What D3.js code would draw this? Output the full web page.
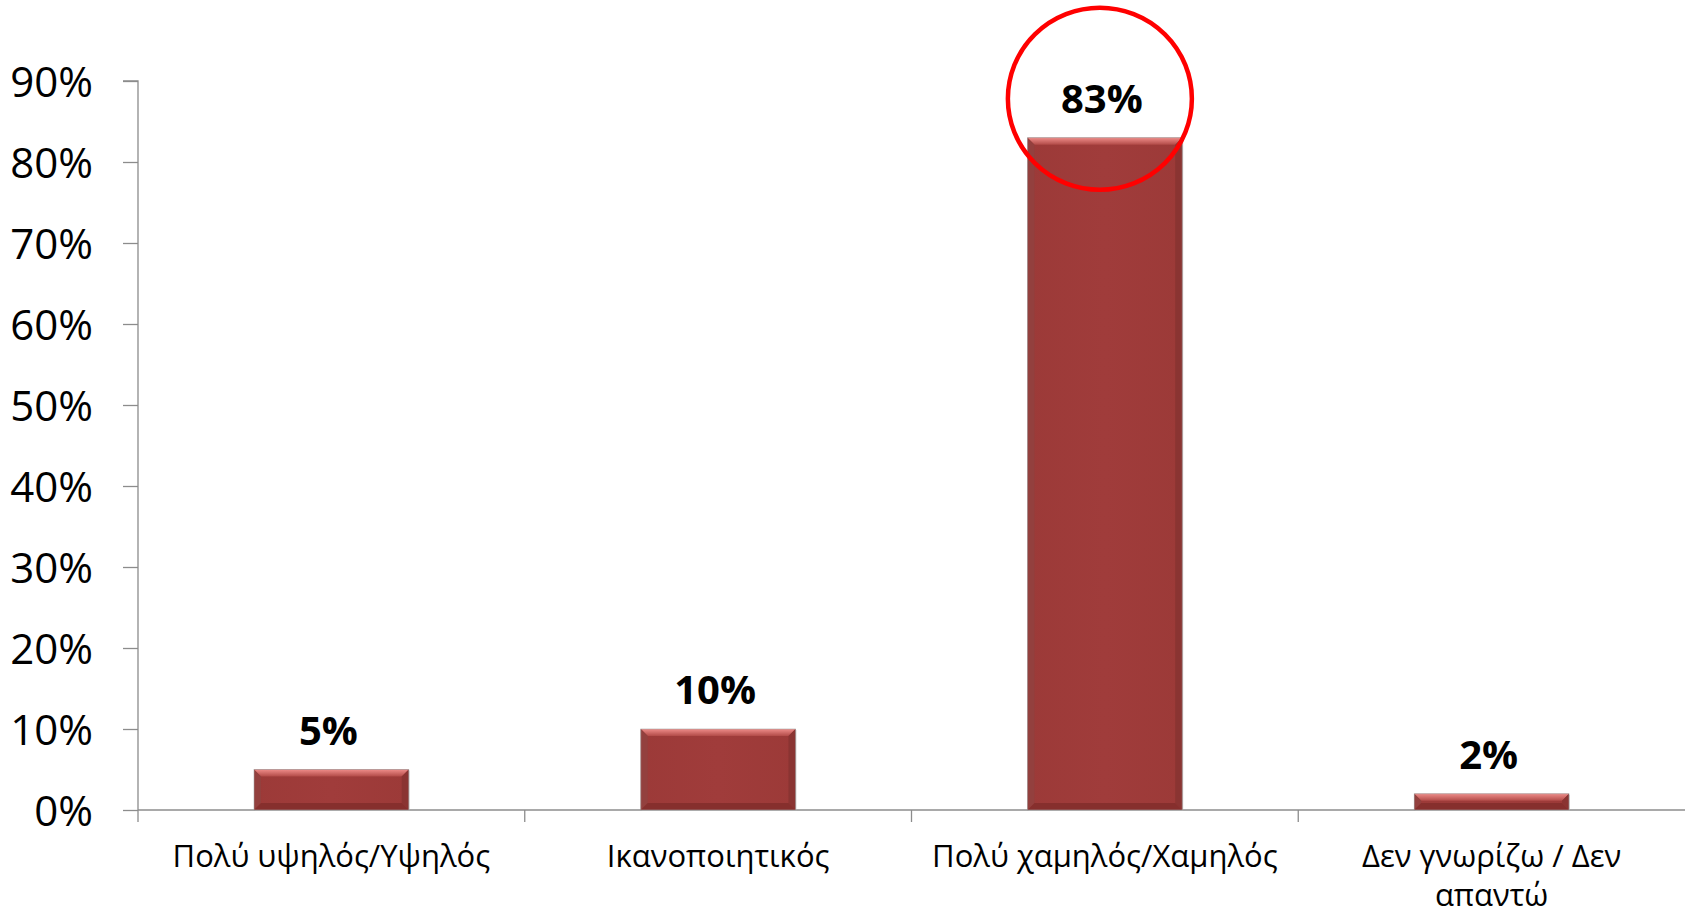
<!DOCTYPE html>
<html>
<head>
<meta charset="utf-8">
<script src="https://cdn.jsdelivr.net/npm/d3@7"></script>
<style>
html,body{margin:0;padding:0;background:#fff;}
svg{display:block;}
</style>
</head>
<body>
<svg id="chart" width="1685" height="917"></svg>
<script>
const categories = ["Πολύ υψηλός/Υψηλός", "Ικανοποιητικός", "Πολύ χαμηλός/Χαμηλός", "Δεν γνωρίζω / Δεν απαντώ"];
const values = [5, 10, 83, 2];
const valueLabels = ["5%", "10%", "83%", "2%"];
const yTicks = [0, 10, 20, 30, 40, 50, 60, 70, 80, 90];
const yTickLabels = ["0%", "10%", "20%", "30%", "40%", "50%", "60%", "70%", "80%", "90%"];
const highlighted = "Πολύ χαμηλός/Χαμηλός";

const svg = d3.select("#chart");
const W = 1685, H = 917;
const m = {left: 138, right: 0, top: 81, bottom: 107};
const FONT = "'Open Sans', 'Noto Sans', sans-serif";

const x = d3.scaleBand().domain(categories).range([m.left, W - m.right]).paddingInner(0.6).paddingOuter(0.3);
const y = d3.scaleLinear().domain([0, 90]).range([H - m.bottom, m.top]);

// defs: gradients
const defs = svg.append("defs");
const gTop = defs.append("linearGradient").attr("id", "gTop").attr("x1", 0).attr("y1", 0).attr("x2", 0).attr("y2", 1);
gTop.append("stop").attr("offset", "0%").attr("stop-color", "#ee8c89");
gTop.append("stop").attr("offset", "100%").attr("stop-color", "#b24b48");
const gBody = defs.append("linearGradient").attr("id", "gBody").attr("x1", 0).attr("y1", 0).attr("x2", 1).attr("y2", 0);
gBody.append("stop").attr("offset", "0%").attr("stop-color", "#9c3a38");
gBody.append("stop").attr("offset", "50%").attr("stop-color", "#a03c3b");
gBody.append("stop").attr("offset", "100%").attr("stop-color", "#9c3a38");

// Y axis
const yAxis = d3.axisLeft(y).tickValues(yTicks).tickFormat((d, i) => yTickLabels[i]).tickSize(15).tickPadding(30);
const ya = svg.append("g").attr("transform", `translate(${m.left},0)`).call(yAxis);
ya.select(".domain").attr("stroke", "#8c8c8c").attr("stroke-width", 1.3).attr("d", `M-15,${y(90)}H0V${y(0)}`);
ya.selectAll(".tick line").attr("stroke", "#8c8c8c").attr("stroke-width", 1.3);
ya.selectAll(".tick text").attr("font-family", FONT).attr("font-size", 42).attr("fill", "#000").attr("dy", "0.36em");

// X axis
const xa = svg.append("g").attr("transform", `translate(0,${y(0)})`);
xa.append("line").attr("x1", m.left).attr("x2", W - m.right).attr("y1", 0).attr("y2", 0).attr("stroke", "#8c8c8c").attr("stroke-width", 1.3);
const step = x.step();
const catStarts = categories.map(c => x(c) + x.bandwidth() / 2 - step / 2);
xa.selectAll("line.ct").data(catStarts).join("line").attr("class", "ct")
  .attr("x1", d => d).attr("x2", d => d).attr("y1", 0).attr("y2", 12)
  .attr("stroke", "#8c8c8c").attr("stroke-width", 1.3);

// category labels with wrapping
const labelG = xa.selectAll("text.cat").data(categories).join("text").attr("class", "cat")
  .attr("x", d => x(d) + x.bandwidth() / 2).attr("y", 57)
  .attr("text-anchor", "middle").attr("font-family", FONT).attr("font-size", 31).attr("fill", "#000");
labelG.each(function(d) {
  const t = d3.select(this);
  const words = d.split(" ");
  const maxW = 380;
  let line = [], lines = [];
  const tmp = t.append("tspan");
  words.forEach(w => {
    const test = line.concat([w]).join(" ");
    tmp.text(test);
    if (tmp.node().getComputedTextLength() > maxW && line.length) {
      lines.push(line.join(" "));
      line = [w];
    } else line.push(w);
  });
  lines.push(line.join(" "));
  tmp.remove();
  lines.forEach((l, i) => {
    t.append("tspan").attr("x", x(d) + x.bandwidth() / 2).attr("dy", i === 0 ? 0 : 39).text(l);
  });
});

// Bars with bevel
const bw = x.bandwidth();
const bars = svg.append("g").selectAll("g.bar").data(categories).join("g").attr("class", "bar");
bars.each(function(d, i) {
  const g = d3.select(this);
  const x0 = x(d), x1 = x0 + bw, y0 = y(values[i]), y1 = y(0);
  const b = Math.min(7, (y1 - y0) / 2);
  g.append("rect").attr("x", x0 + 1).attr("y", y0 + 1).attr("width", bw).attr("height", y1 - y0).attr("fill", "#b8b8b8").attr("opacity", 0.6);
  g.append("rect").attr("x", x0).attr("y", y0).attr("width", bw).attr("height", y1 - y0).attr("fill", "url(#gBody)");
  g.append("polygon").attr("points", `${x0},${y0} ${x1},${y0} ${x1 - b},${y0 + b} ${x0 + b},${y0 + b}`).attr("fill", "url(#gTop)");
  g.append("polygon").attr("points", `${x0},${y0} ${x0 + b},${y0 + b} ${x0 + b},${y1 - b} ${x0},${y1}`).attr("fill", "#93403e");
  g.append("polygon").attr("points", `${x1},${y0} ${x1 - b},${y0 + b} ${x1 - b},${y1 - b} ${x1},${y1}`).attr("fill", "#8a3432");
  g.append("polygon").attr("points", `${x0},${y1} ${x0 + b},${y1 - b} ${x1 - b},${y1 - b} ${x1},${y1}`).attr("fill", "#862f2d");
  g.append("rect").attr("x", x0).attr("y", y0).attr("width", bw).attr("height", y1 - y0).attr("fill", "none").attr("stroke", "#a0a0a0").attr("stroke-width", 0.8).attr("opacity", 0.7);
});

// value labels
svg.append("g").selectAll("text.val").data(categories).join("text").attr("class", "val")
  .attr("x", d => x(d) + bw / 2 - 3).attr("y", (d, i) => y(values[i]) - 25)
  .attr("text-anchor", "middle").attr("font-family", FONT).attr("font-weight", "bold").attr("font-size", 40).attr("fill", "#000")
  .text((d, i) => valueLabels[i]);

// highlight circle
const hi = categories.indexOf(highlighted);
svg.append("ellipse")
  .attr("cx", x(highlighted) + bw / 2 - 5).attr("cy", y(values[hi]) - 39)
  .attr("rx", 92).attr("ry", 91)
  .attr("fill", "none").attr("stroke", "#ff0000").attr("stroke-width", 4.5);
</script>
</body>
</html>
